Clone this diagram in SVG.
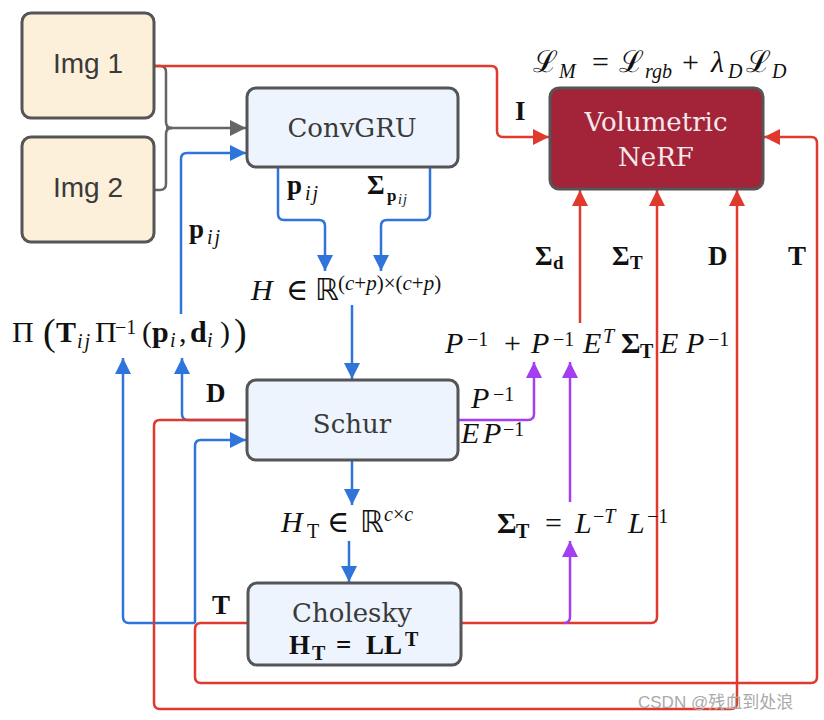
<svg xmlns="http://www.w3.org/2000/svg" width="824" height="720" viewBox="0 0 824 720">
<style>
.box{stroke:#555;stroke-width:3}
.img{fill:#fdf0da}
.blu{fill:#edf4fd}
.nerf{fill:#a32339}
.lbl{font-family:"DejaVu Serif","Liberation Serif",serif;font-size:26px;fill:#3a3a3a;text-anchor:middle}
.sans{font-family:"Liberation Sans",Arial,sans-serif;font-size:28px;fill:#3a3a3a;text-anchor:middle}
.m{font-family:"Liberation Serif","DejaVu Serif",serif;font-size:30px;fill:#111;font-style:italic}
.b{font-family:"Liberation Serif","DejaVu Serif",serif;font-size:27px;fill:#111;font-weight:bold}
.n{font-style:normal}
.bf{font-weight:bold;font-style:normal}
.s{font-size:20px}
.it{font-style:italic;font-weight:normal}
.c{fill:none;stroke-width:2.5}
.red{stroke:#e03a2f}
.bl{stroke:#2e74db}
.pu{stroke:#a43ff1}
.gr{stroke:#666}
</style>
<defs>
<marker id="ar" markerUnits="userSpaceOnUse" markerWidth="16" markerHeight="16" refX="16" refY="8" orient="auto"><path d="M0,0 L16,8 L0,16 z" fill="#e03a2f"/></marker>
<marker id="ab" markerUnits="userSpaceOnUse" markerWidth="16" markerHeight="16" refX="16" refY="8" orient="auto"><path d="M0,0 L16,8 L0,16 z" fill="#2e74db"/></marker>
<marker id="ap" markerUnits="userSpaceOnUse" markerWidth="16" markerHeight="16" refX="16" refY="8" orient="auto"><path d="M0,0 L16,8 L0,16 z" fill="#a43ff1"/></marker>
<marker id="ag" markerUnits="userSpaceOnUse" markerWidth="16" markerHeight="16" refX="16" refY="8" orient="auto"><path d="M0,0 L16,8 L0,16 z" fill="#666"/></marker>
</defs>
<rect width="824" height="720" fill="#fff"/>
<g id="connectors">
<path class="c gr" d="M154,66 H160 Q166,66 166,72 V122 Q166,128 172,128"/>
<path class="c gr" d="M154,190 H160 Q166,190 166,184 V134 Q166,128 172,128"/>
<path class="c gr" d="M166,128 H246" marker-end="url(#ag)"/>
<path class="c red" d="M154,66 H491 Q497,66 497,72 V131 Q497,137 503,137 H549" marker-end="url(#ar)"/>
<path class="c bl" d="M181,314 V159 Q181,153 187,153 H246" marker-end="url(#ab)"/>
<path class="c bl" d="M278,168 V214 Q278,220 284,220 H319 Q325,220 325,226 V271" marker-end="url(#ab)"/>
<path class="c bl" d="M430,168 V214 Q430,220 424,220 H387 Q381,220 381,226 V271" marker-end="url(#ab)"/>
<path class="c bl" d="M352,305 V379" marker-end="url(#ab)"/>
<path class="c bl" d="M352,461 V505" marker-end="url(#ab)"/>
<path class="c bl" d="M349,541 V582" marker-end="url(#ab)"/>
<path class="c bl" d="M247,420 H188 Q182,420 182,414 V358" marker-end="url(#ab)"/>
<path class="c bl" d="M195,623 H129 Q123,623 123,617 V358" marker-end="url(#ab)"/>
<path class="c bl" d="M195,623 V446 Q195,440 201,440 H246" marker-end="url(#ab)"/>
<path class="c red" d="M247,420 H160 Q154,420 154,426 V703 Q154,709 160,709 H731 Q737,709 737,703 V190" marker-end="url(#ar)"/>
<path class="c red" d="M248,623 H201 Q195,623 195,629 V677 Q195,683 201,683 H811 Q817,683 817,677 V143 Q817,137 811,137 H764" marker-end="url(#ar)"/>
<path class="c red" d="M461,623 H651 Q657,623 657,617 V190" marker-end="url(#ar)"/>
<path class="c red" d="M580,323 V190" marker-end="url(#ar)"/>
<path class="c pu" d="M459,420 H528 Q534,420 534,414 V362" marker-end="url(#ap)"/>
<path class="c pu" d="M564,623 Q570,623 570,617 V541" marker-end="url(#ap)"/>
<path class="c pu" d="M570,502 V362" marker-end="url(#ap)"/>
</g>
<g id="img1"><rect class="box img" x="22" y="13" width="132" height="105" rx="9"/><text class="sans" x="88" y="73">Img 1</text></g>
<g id="img2"><rect class="box img" x="22" y="137" width="132" height="105" rx="9"/><text class="sans" x="88" y="197">Img 2</text></g>
<g id="convgru"><rect class="box blu" x="247" y="88" width="211" height="79" rx="9"/><text class="lbl" x="352" y="137">ConvGRU</text></g>
<g id="nerf"><rect class="box nerf" x="550" y="88" width="213" height="101" rx="9"/><text class="lbl" x="656" y="131" style="fill:#f6e9eb">Volumetric</text><text class="lbl" x="656" y="166" style="fill:#f6e9eb">NeRF</text></g>
<g id="schur"><rect class="box blu" x="247" y="380" width="211" height="80" rx="9"/><text class="lbl" x="352" y="433">Schur</text></g>
<g id="cholesky"><rect class="box blu" x="248" y="583" width="213" height="82" rx="9"/><text class="lbl" x="352" y="622">Cholesky</text>
<text class="b" font-size="30"><tspan x="289" y="654">H</tspan><tspan font-size="20" x="312" y="660">T</tspan><tspan x="336" y="654">=</tspan><tspan x="366" y="654">LL</tspan><tspan font-size="20" x="405" y="646">T</tspan></text></g>
<g id="labels">
<text class="m" font-size="29"><tspan class="n" x="533" y="72">ℒ</tspan><tspan class="s" x="559" y="78">M</tspan><tspan class="n" x="592" y="72">=</tspan><tspan class="n" x="619" y="72">ℒ</tspan><tspan class="s" x="645" y="78">rgb</tspan><tspan class="n" x="682" y="72">+</tspan><tspan x="711" y="72">λ</tspan><tspan class="s" x="728" y="78">D</tspan><tspan class="n" x="746" y="72">ℒ</tspan><tspan class="s" x="772" y="78">D</tspan></text>
<text class="b" x="515" y="120">I</text>
<text class="b"><tspan x="287" y="194">p</tspan><tspan class="it s" x="305" y="200" letter-spacing="2">ij</tspan></text>
<text class="b"><tspan x="367" y="194">Σ</tspan><tspan font-size="17" x="387" y="201">p</tspan><tspan class="it" font-size="14" x="398" y="204" letter-spacing="1">ij</tspan></text>
<text class="b"><tspan x="189" y="238">p</tspan><tspan class="it s" x="207" y="244" letter-spacing="2">ij</tspan></text>
<text class="m"><tspan x="251" y="300">H</tspan><tspan class="n" x="286" y="300">∈</tspan><tspan class="n" font-family="DejaVu Sans" x="315" y="300">ℝ</tspan><tspan font-size="21" x="338" y="290"><tspan class="n">(</tspan>c<tspan class="n">+</tspan>p<tspan class="n">)×(</tspan>c<tspan class="n">+</tspan>p<tspan class="n">)</tspan></tspan></text>
<text class="m"><tspan class="n" x="12" y="342">Π</tspan><tspan class="n" font-size="38" x="43" y="345">(</tspan><tspan class="bf" x="56" y="342">T</tspan><tspan class="s" x="77" y="348" letter-spacing="2">ij</tspan><tspan class="n" x="95" y="342">Π</tspan><tspan class="n s" x="115" y="334">−1</tspan><tspan class="n" x="142" y="342">(</tspan><tspan class="bf" x="152" y="342">p</tspan><tspan class="s" x="170" y="347">i</tspan><tspan class="n" x="179" y="342">,</tspan><tspan class="bf" x="190" y="342">d</tspan><tspan class="s" x="207" y="347">i</tspan><tspan class="n" x="220" y="342">)</tspan><tspan class="n" font-size="38" x="234" y="345">)</tspan></text>
<text class="b" x="206" y="402">D</text>
<text class="b" x="212" y="614">T</text>
<text class="b"><tspan x="535" y="265">Σ</tspan><tspan font-size="19" x="553" y="269">d</tspan></text>
<text class="b"><tspan x="612" y="265">Σ</tspan><tspan font-size="19" x="630" y="269">T</tspan></text>
<text class="b" x="708" y="265">D</text>
<text class="b" x="788" y="265">T</text>
<text class="m"><tspan x="445" y="353">P</tspan><tspan class="n s" x="467" y="346">−1</tspan><tspan class="n" x="504" y="353">+</tspan><tspan x="531" y="353">P</tspan><tspan class="n s" x="553" y="346">−1</tspan><tspan x="583" y="353">E</tspan><tspan class="s" x="603" y="343">T</tspan><tspan class="bf" x="621" y="353">Σ</tspan><tspan class="bf s" x="640" y="358">T</tspan><tspan x="660" y="353">E</tspan><tspan x="686" y="353">P</tspan><tspan class="n s" x="708" y="346">−1</tspan></text>
<text class="m"><tspan x="471" y="408">P</tspan><tspan class="n s" x="493" y="401">−1</tspan></text>
<text class="m"><tspan x="461" y="443">E</tspan><tspan x="483" y="443">P</tspan><tspan class="n s" x="503" y="436">−1</tspan></text>
<text class="m"><tspan x="281" y="532">H</tspan><tspan class="n s" x="307" y="538">T</tspan><tspan class="n" x="327" y="532">∈</tspan><tspan class="n" font-family="DejaVu Sans" x="360" y="532">ℝ</tspan><tspan class="s" x="384" y="521">c<tspan class="n">×</tspan>c</tspan></text>
<text class="m"><tspan class="bf" x="497" y="533">Σ</tspan><tspan class="bf s" x="516" y="538">T</tspan><tspan class="n" x="545" y="533">=</tspan><tspan x="575" y="533">L</tspan><tspan class="s" x="593" y="523"><tspan class="n">−</tspan>T</tspan><tspan x="628" y="533">L</tspan><tspan class="n s" x="647" y="523">−1</tspan></text>
<text x="638" y="708" font-family="Liberation Sans,'Noto Sans CJK SC',sans-serif" font-size="17" fill="#aaa">CSDN @残血到处浪</text>
</g>
</svg>
